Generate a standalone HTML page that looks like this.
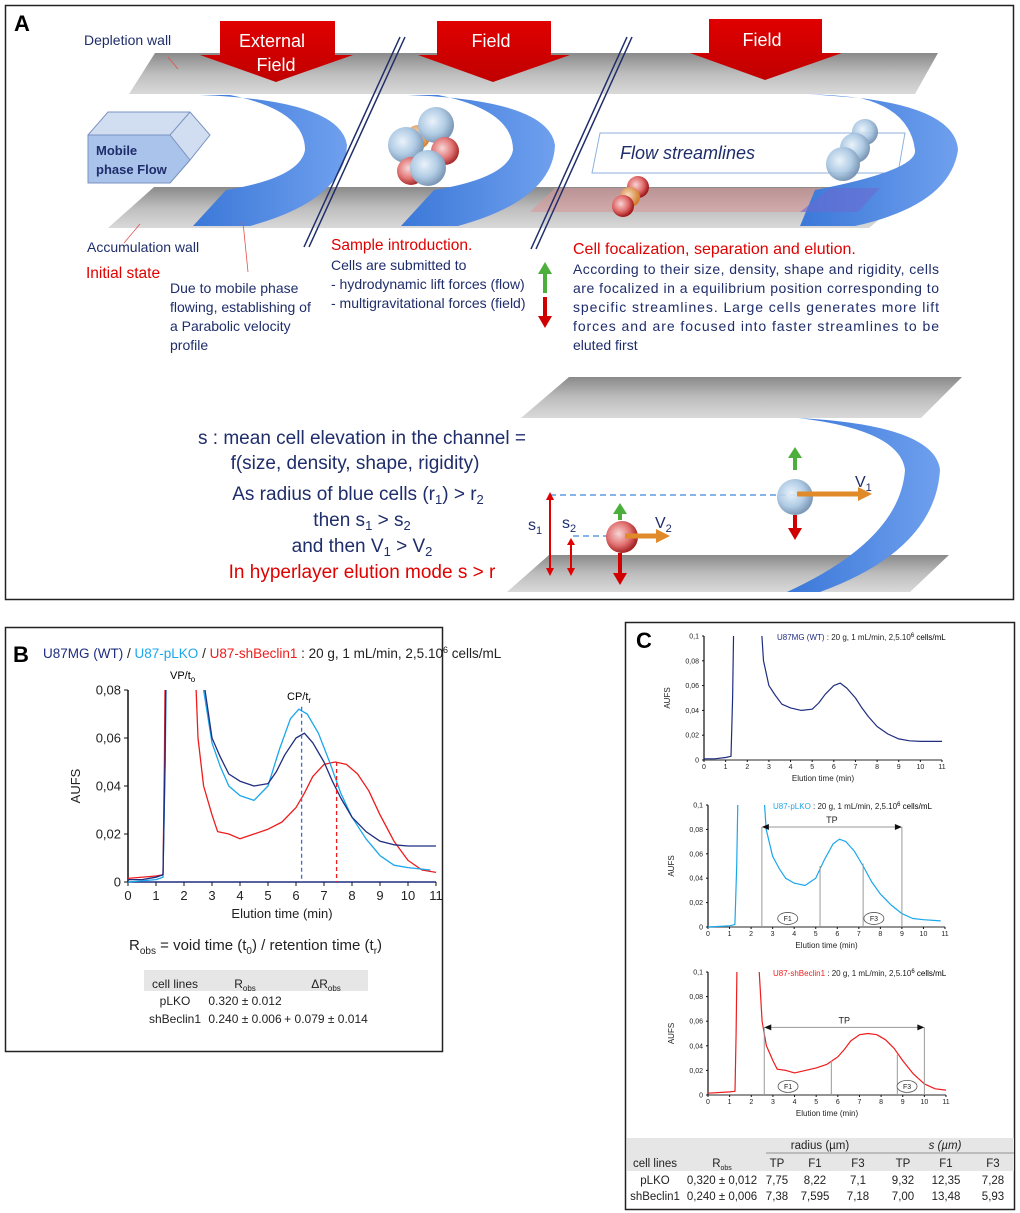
<!DOCTYPE html>
<html><head><meta charset="utf-8"><style>
html,body{margin:0;padding:0;background:#fff;}
svg{display:block;}
.n{font-family:"Liberation Sans Narrow","Liberation Sans",sans-serif;}
.s{font-family:"Liberation Sans",sans-serif;}
</style></head><body>
<svg id="fig" width="1020" height="1213" viewBox="0 0 1020 1213" xmlns="http://www.w3.org/2000/svg">
<defs>
<linearGradient id="wall" x1="0" y1="0" x2="0" y2="1"><stop offset="0" stop-color="#8a8a8a"/><stop offset="0.5" stop-color="#bdbdbd"/><stop offset="1" stop-color="#d9d9d9"/></linearGradient>
<linearGradient id="blueg" x1="0" y1="0" x2="1" y2="0"><stop offset="0" stop-color="#3b78d8"/><stop offset="1" stop-color="#6fa0ee"/></linearGradient>
<radialGradient id="bcell" cx="0.4" cy="0.4" r="0.6"><stop offset="0" stop-color="#e8f2fb"/><stop offset="0.6" stop-color="#a9c7e2"/><stop offset="1" stop-color="#6f8fb0"/></radialGradient>
<radialGradient id="rcell" cx="0.4" cy="0.4" r="0.6"><stop offset="0" stop-color="#f7d4d4"/><stop offset="0.6" stop-color="#e06a6a"/><stop offset="1" stop-color="#a01818"/></radialGradient>
<radialGradient id="ocell" cx="0.4" cy="0.4" r="0.6"><stop offset="0" stop-color="#f8dcc0"/><stop offset="1" stop-color="#d27a2a"/></radialGradient>
<linearGradient id="redarrow" x1="0" y1="0" x2="0" y2="1"><stop offset="0" stop-color="#e00000"/><stop offset="1" stop-color="#c00000"/></linearGradient>
</defs>

<!-- PANEL A -->
<g>
<rect x="5.5" y="5.5" width="1008" height="594" fill="#fff" stroke="#222" stroke-width="1.5"/>
<text x="14" y="31" class="s" font-size="22" font-weight="bold">A</text>

<polygon points="155,53 938,53 915,94 129,94" fill="url(#wall)"/>
<polygon points="154,187 918,187 869,228 108,228" fill="url(#wall)"/>
<polygon points="555,188 880,188 858,212 530,212" fill="#d99a9a" opacity="0.6"/>
<polygon points="600,133 905,133 898,173 592,173" fill="#fff" fill-opacity="0.7" stroke="#8fb2dc"/>
<text x="620" y="159" class="s" font-size="18" font-style="italic" fill="#1f2d6b">Flow streamlines</text>

<path d="M200,95 Q340,100 347,145 Q345,200 250,226 L193,226 L226,190 Q300,178 305,150 Q305,110 230,95 Z" fill="url(#blueg)"/>
<path d="M408,95 Q548,100 555,145 Q553,200 458,226 L401,226 L434,190 Q508,178 513,150 Q513,110 438,95 Z" fill="url(#blueg)"/>
<path d="M808,94 Q955,100 958,150 Q950,205 855,226 L800,226 L815,190 Q918,170 915,150 Q910,110 860,98 Z" fill="url(#blueg)"/>
<polygon points="830,188 880,188 858,212 800,212" fill="#6b6bd0" opacity="0.6"/>

<!-- mobile phase box -->
<g>
<polygon points="88,135 108,112 190,112 210,135 190,160 170,183 88,183" fill="#c5d6ef" stroke="#7b93c0" fill-opacity="0.8"/>
<polygon points="88,135 170,135 190,160 170,183 88,183" fill="#a9c3ea" stroke="#7b93c0"/>
<line x1="170" y1="135" x2="190" y2="112" stroke="#7b93c0"/>
<text x="96" y="155" class="s" font-size="13" font-weight="bold" fill="#1f2d6b">Mobile</text>
<text x="96" y="174" class="s" font-size="13" font-weight="bold" fill="#1f2d6b">phase Flow</text>
</g>

<!-- break lines -->
<g stroke="#1f2d6b" stroke-width="1.5" fill="none">
<line x1="400" y1="37" x2="304" y2="247"/><line x1="405" y1="37" x2="309" y2="247"/>
<line x1="627" y1="37" x2="531" y2="249"/><line x1="632" y1="37" x2="536" y2="249"/>
</g>

<!-- red field arrows -->
<g>
<polygon points="220,21 335,21 335,55 353,55 276,82 200,55 220,55" fill="url(#redarrow)"/>
<text x="272" y="47" text-anchor="middle" class="n" font-size="18" fill="#fff">External</text>
<text x="276" y="71" text-anchor="middle" class="n" font-size="18" fill="#fff">Field</text>
</g>
<g>
<polygon points="437,21 551,21 551,55 570,55 493,82 418,55 437,55" fill="url(#redarrow)"/>
<text x="491" y="47" text-anchor="middle" class="n" font-size="18" fill="#fff">Field</text>
</g>
<g>
<polygon points="709,19 822,19 822,53 842,53 765,80 690,53 709,53" fill="url(#redarrow)"/>
<text x="762" y="46" text-anchor="middle" class="n" font-size="18" fill="#fff">Field</text>
</g>

<!-- cells cluster -->
<g opacity="0.9">
<circle cx="418" cy="137" r="12" fill="url(#ocell)"/>
<circle cx="436" cy="125" r="18" fill="url(#bcell)"/>
<circle cx="406" cy="145" r="18" fill="url(#bcell)"/>
<circle cx="445" cy="151" r="14" fill="url(#rcell)"/>
<circle cx="411" cy="171" r="14" fill="url(#rcell)"/>
<circle cx="428" cy="168" r="18" fill="url(#bcell)"/>
</g>
<g>
<circle cx="638" cy="187" r="11" fill="url(#rcell)"/>
<circle cx="630" cy="197" r="10" fill="url(#ocell)"/>
<circle cx="623" cy="206" r="11" fill="url(#rcell)"/>
</g>
<g opacity="0.9">
<circle cx="865" cy="132" r="13" fill="url(#bcell)"/>
<circle cx="855" cy="148" r="15" fill="url(#bcell)"/>
<circle cx="843" cy="164" r="17" fill="url(#bcell)"/>
</g>

<!-- annotation lines -->
<line x1="168" y1="57" x2="178" y2="69" stroke="#e05050" stroke-width="0.8"/>
<line x1="140" y1="224" x2="124" y2="243" stroke="#e05050" stroke-width="0.8"/>
<line x1="243" y1="222" x2="248" y2="272" stroke="#e05050" stroke-width="0.8"/>

<g class="n" fill="#1f2d6b" font-size="14">
<text x="84" y="45">Depletion wall</text>
<text x="87" y="252">Accumulation wall</text>
<text x="86" y="278" fill="#e00000" font-size="15.5">Initial state</text>
<g>
<text x="170" y="293">Due to mobile phase</text>
<text x="170" y="312">flowing, establishing of</text>
<text x="170" y="331">a Parabolic velocity</text>
<text x="170" y="350">profile</text>
</g>
<text x="331" y="250" fill="#e00000" font-size="15.5">Sample introduction.</text>
<g>
<text x="331" y="270">Cells are submitted to</text>
<text x="331" y="289">- hydrodynamic lift forces (flow)</text>
<text x="331" y="308">- multigravitational forces (field)</text>
</g>
<text x="573" y="254" fill="#e00000" font-size="16">Cell focalization, separation and elution.</text>
<g>
<text x="573" y="274" textLength="366" lengthAdjust="spacing">According to their size, density, shape and rigidity, cells</text>
<text x="573" y="293" textLength="366" lengthAdjust="spacing">are focalized in a equilibrium position corresponding to</text>
<text x="573" y="312" textLength="366" lengthAdjust="spacing">specific streamlines. Large cells generates more lift</text>
<text x="573" y="331" textLength="366" lengthAdjust="spacing">forces and are focused into faster streamlines to be</text>
<text x="573" y="350">eluted first</text>
</g>
</g>
<g>
<line x1="545" y1="293" x2="545" y2="272" stroke="#4caf3c" stroke-width="4"/><polygon points="538,274 552,274 545,262" fill="#4caf3c"/>
<line x1="545" y1="297" x2="545" y2="318" stroke="#d00000" stroke-width="4"/><polygon points="538,316 552,316 545,328" fill="#d00000"/>
</g>

<!-- lower channel -->
<polygon points="569,377 962,377 921,418 521,418" fill="url(#wall)"/>
<polygon points="549,555 949,555 910,592 507,592" fill="url(#wall)"/>
<path d="M798,418 Q935,425 940,470 Q935,550 820,592 L787,592 Q900,540 905,470 Q900,430 798,418 Z" fill="url(#blueg)"/>
<line x1="550" y1="495" x2="795" y2="495" stroke="#5b9be0" stroke-width="1.5" stroke-dasharray="6,4"/>
<line x1="573" y1="536" x2="622" y2="536" stroke="#5b9be0" stroke-width="1.5" stroke-dasharray="6,4"/>
<g><line x1="550" y1="498" x2="550" y2="570" stroke="#e00000" stroke-width="2"/><polygon points="546,500 554,500 550,492" fill="#e00000"/><polygon points="546,568 554,568 550,576" fill="#e00000"/></g>
<g><line x1="571" y1="543" x2="571" y2="570" stroke="#e00000" stroke-width="2"/><polygon points="567,545 575,545 571,538" fill="#e00000"/><polygon points="567,568 575,568 571,576" fill="#e00000"/></g>
<g>
<line x1="795" y1="470" x2="795" y2="455" stroke="#4caf3c" stroke-width="4"/><polygon points="788,458 802,458 795,447" fill="#4caf3c"/>
<circle cx="795" cy="497" r="18" fill="url(#bcell)" opacity="0.9"/>
<line x1="795" y1="515" x2="795" y2="530" stroke="#d00000" stroke-width="4"/><polygon points="788,528 802,528 795,540" fill="#d00000"/>
<line x1="797" y1="494" x2="862" y2="494" stroke="#e08a2a" stroke-width="5"/><polygon points="858,487 872,494 858,501" fill="#e08a2a"/>
</g>
<g>
<line x1="620" y1="520" x2="620" y2="512" stroke="#4caf3c" stroke-width="4"/><polygon points="613,514 627,514 620,503" fill="#4caf3c"/>
<circle cx="622" cy="537" r="16" fill="url(#rcell)" opacity="0.95"/>
<line x1="620" y1="553" x2="620" y2="575" stroke="#d00000" stroke-width="4"/><polygon points="613,573 627,573 620,585" fill="#d00000"/>
<line x1="625" y1="536" x2="660" y2="536" stroke="#e08a2a" stroke-width="5"/><polygon points="656,529 670,536 656,543" fill="#e08a2a"/>
</g>
<g class="n" fill="#1f2d6b" font-size="16">
<text x="855" y="487">V<tspan font-size="11" dy="4">1</tspan></text>
<text x="655" y="528">V<tspan font-size="11" dy="4">2</tspan></text>
<text x="528" y="530">s<tspan font-size="11" dy="4">1</tspan></text>
<text x="562" y="528">s<tspan font-size="11" dy="4">2</tspan></text>
</g>
<g class="n" fill="#1f2d6b" font-size="19" text-anchor="middle">
<text x="362" y="444">s : mean cell elevation in the channel =</text>
<text x="355" y="469">f(size, density, shape, rigidity)</text>
<text x="358" y="500">As radius of blue cells (r<tspan font-size="13" dy="4">1</tspan><tspan dy="-4">) &gt; r</tspan><tspan font-size="13" dy="4">2</tspan></text>
<text x="362" y="526">then s<tspan font-size="13" dy="4">1</tspan><tspan dy="-4"> &gt; s</tspan><tspan font-size="13" dy="4">2</tspan></text>
<text x="362" y="552">and then V<tspan font-size="13" dy="4">1</tspan><tspan dy="-4"> &gt; V</tspan><tspan font-size="13" dy="4">2</tspan></text>
<text x="362" y="578" fill="#e00000">In hyperlayer elution mode s &gt; r</text>
</g>
</g>

<!-- PANEL B -->
<g>
<rect x="5.5" y="627.5" width="437" height="424" fill="#fff" stroke="#222" stroke-width="1.5"/>
<text x="13" y="662" class="s" font-size="22" font-weight="bold">B</text>
<text x="43" y="658" class="s" font-size="13.5"><tspan fill="#1f2d80">U87MG (WT)</tspan><tspan fill="#222"> / </tspan><tspan fill="#1aa7ec">U87-pLKO</tspan><tspan fill="#222"> / </tspan><tspan fill="#ee1c1c">U87-shBeclin1</tspan><tspan fill="#222">  : 20 g, 1 mL/min, 2,5.10</tspan><tspan fill="#222" font-size="9" dy="-5">6</tspan><tspan fill="#222" dy="5"> cells/mL</tspan></text>
<g id="chartB"></g>
<text x="170" y="679" class="s" font-size="11">VP/t<tspan font-size="8" dy="3">o</tspan></text>
<text x="287" y="700" class="s" font-size="11">CP/t<tspan font-size="8" dy="3">r</tspan></text>
<text x="129" y="950" class="n" font-size="15" fill="#222">R<tspan font-size="10" dy="4">obs</tspan><tspan dy="-4"> = void time (t</tspan><tspan font-size="10" dy="4">0</tspan><tspan dy="-4">) / retention time (t</tspan><tspan font-size="10" dy="4">r</tspan><tspan dy="-4">)</tspan></text>
<g class="n" font-size="12" fill="#222" text-anchor="middle">
<rect x="144" y="970" width="224" height="21" fill="#e6e6e6"/>
<text x="175" y="988">cell lines</text>
<text x="245" y="988">R<tspan font-size="8" dy="3">obs</tspan></text>
<text x="326" y="988">ΔR<tspan font-size="8" dy="3">obs</tspan></text>
<text x="175" y="1005">pLKO</text><text x="245" y="1005">0.320 ± 0.012</text>
<text x="175" y="1023">shBeclin1</text><text x="245" y="1023">0.240 ± 0.006</text><text x="326" y="1023">+ 0.079 ± 0.014</text>
</g>
</g>

<!-- PANEL C -->
<g>
<rect x="625.5" y="622.5" width="389" height="587" fill="#fff" stroke="#222" stroke-width="1.5"/>
<text x="636" y="648" class="s" font-size="22" font-weight="bold">C</text>
<g id="chartC1"></g>
<g id="chartC2"></g>
<g id="chartC3"></g>
<text x="777" y="640" class="s" font-size="8"><tspan fill="#1f2d80">U87MG (WT)</tspan><tspan fill="#222"> : 20 g, 1 mL/min, 2,5.10</tspan><tspan font-size="6" dy="-3">6</tspan><tspan dy="3"> cells/mL</tspan></text>
<text x="773" y="809" class="s" font-size="8"><tspan fill="#1aa7ec">U87-pLKO</tspan><tspan fill="#222"> : 20 g, 1 mL/min, 2,5.10</tspan><tspan font-size="6" dy="-3">6</tspan><tspan dy="3"> cells/mL</tspan></text>
<text x="773" y="976" class="s" font-size="8"><tspan fill="#ee1c1c">U87-shBeclin1</tspan><tspan fill="#222">  : 20 g, 1 mL/min, 2,5.10</tspan><tspan font-size="6" dy="-3">6</tspan><tspan dy="3"> cells/mL</tspan></text>
<g class="n" font-size="11.5" fill="#222" text-anchor="middle">
<rect x="627" y="1138" width="387" height="33" fill="#e6e6e6"/>
<text x="820" y="1149">radius (µm)</text>
<text x="945" y="1149" font-style="italic">s (µm)</text>
<line x1="766" y1="1153" x2="1014" y2="1153" stroke="#777" stroke-width="0.8"/>
<text x="655" y="1167">cell lines</text>
<text x="722" y="1167">R<tspan font-size="7" dy="3">obs</tspan></text>
<text x="777" y="1167">TP</text><text x="815" y="1167">F1</text><text x="858" y="1167">F3</text>
<text x="903" y="1167">TP</text><text x="946" y="1167">F1</text><text x="993" y="1167">F3</text>
<text x="655" y="1184">pLKO</text><text x="722" y="1184">0,320 ± 0,012</text><text x="777" y="1184">7,75</text><text x="815" y="1184">8,22</text><text x="858" y="1184">7,1</text><text x="903" y="1184">9,32</text><text x="946" y="1184">12,35</text><text x="993" y="1184">7,28</text>
<text x="655" y="1200">shBeclin1</text><text x="722" y="1200">0,240 ± 0,006</text><text x="777" y="1200">7,38</text><text x="815" y="1200">7,595</text><text x="858" y="1200">7,18</text><text x="903" y="1200">7,00</text><text x="946" y="1200">13,48</text><text x="993" y="1200">5,93</text>
</g>
</g>
</svg>

<script>
// ---- data ----
const timeTicks = [0,1,2,3,4,5,6,7,8,9,10,11];
const bYTicks = [0,0.02,0.04,0.06,0.08];
const bYTickLabels = ["0","0,02","0,04","0,06","0,08"];
const cYTicks = [0,0.02,0.04,0.06,0.08,0.1];
const cYTickLabels = ["0","0,02","0,04","0,06","0,08","0,1"];
const wtTime = [0,0.5,1,1.25,1.32,1.38,2.6,2.75,3,3.3,3.6,4,4.5,5,5.3,5.6,6,6.3,6.6,7,7.3,7.6,8,8.5,9,9.5,10,11];
const wtAufs = [0.001,0.001,0.002,0.003,0.05,0.12,0.12,0.08,0.06,0.052,0.045,0.042,0.04,0.041,0.046,0.053,0.06,0.062,0.058,0.05,0.042,0.035,0.027,0.021,0.017,0.0155,0.015,0.015];
const plkoTime = [0,1,1.25,1.33,1.4,2.55,2.7,3,3.3,3.6,4,4.5,5,5.4,5.8,6.1,6.4,6.8,7.2,7.6,8,8.5,9,9.5,10,10.8];
const plkoAufs = [0,0.001,0.002,0.05,0.12,0.12,0.08,0.058,0.048,0.04,0.036,0.034,0.04,0.055,0.068,0.072,0.07,0.062,0.05,0.037,0.027,0.018,0.011,0.007,0.006,0.005];
const shbTime = [0,1,1.25,1.3,1.35,2.3,2.5,2.7,3,3.2,3.6,4,4.5,5,5.5,6,6.3,6.6,7,7.4,7.8,8.2,8.6,9,9.5,10,10.5,11];
const shbAufs = [0.0015,0.0025,0.003,0.05,0.12,0.12,0.06,0.04,0.028,0.021,0.02,0.018,0.02,0.022,0.025,0.031,0.037,0.044,0.049,0.05,0.049,0.045,0.038,0.028,0.017,0.009,0.005,0.004];
const bMarkerTimes = [6.2, 7.45];
const bMarkerAufs = [0.073, 0.05];
const plkoFractionTimes = [2.5, 5.2, 7.2, 9];
const plkoFractionAufs = [0.082, 0.05, 0.052, 0.082];
const shbFractionTimes = [2.6, 5.7, 8.75, 10];
const shbFractionAufs = [0.055, 0.028, 0.033, 0.055];

const NS = "http://www.w3.org/2000/svg";
function mk(parent, tag, attrs){const e=document.createElementNS(NS,tag);for(const k in attrs)e.setAttribute(k,attrs[k]);parent.appendChild(e);return e;}
let clipId=0;

function chart(g, o){
  const sx = v => o.x0 + (v/11)*(o.x1-o.x0);
  const sy = v => o.y0 - (v/o.ymax)*(o.y0-o.y1);
  const defs = mk(document.getElementById('fig').querySelector('defs'),'clipPath',{id:'clip'+(++clipId)});
  mk(defs,'rect',{x:o.x0,y:o.y1,width:o.x1-o.x0+4,height:o.y0-o.y1+1});
  // axes
  const ax = mk(g,'line',{x1:o.x0,y1:o.y0,x2:o.x1,y2:o.y0,stroke:o.axisColor,'stroke-width':o.aw});
  
  
  const ay = mk(g,'line',{x1:o.x0,y1:o.y0,x2:o.x0,y2:o.y1,stroke:'#111','stroke-width':o.aw});
  
  
  timeTicks.forEach(t=>{
    mk(g,'line',{x1:sx(t),y1:o.y0,x2:sx(t),y2:o.y0+o.tk,stroke:'#111','stroke-width':1});
    const tl = mk(g,'text',{x:sx(t),y:o.y0+o.tlOff,'text-anchor':'middle','font-size':o.fs,'font-family':'Liberation Sans, sans-serif',fill:'#222'});
    tl.textContent = t;
    
    
  });
  o.yt.forEach((v,i)=>{
    mk(g,'line',{x1:o.x0-o.tk,y1:sy(v),x2:o.x0,y2:sy(v),stroke:'#111','stroke-width':1});
    const tl = mk(g,'text',{x:o.x0-o.tk-3,y:sy(v)+o.fs*0.35,'text-anchor':'end','font-size':o.fs,'font-family':'Liberation Sans, sans-serif',fill:'#222'});
    tl.textContent = o.ytl[i];
    
    
  });
  const xt = mk(g,'text',{x:(o.x0+o.x1)/2,y:o.y0+o.xtOff,'text-anchor':'middle','font-size':o.lfs,'font-family':'Liberation Sans, sans-serif',fill:'#222'});
  xt.textContent='Elution time (min)';
  
  
  const yx=o.x0-o.ytOff, yy=(o.y0+o.y1)/2;
  const yt = mk(g,'text',{x:yx,y:yy,'text-anchor':'middle','font-size':o.lfs,'font-family':'Liberation Sans, sans-serif',fill:'#222',transform:`rotate(-90 ${yx} ${yy})`});
  yt.textContent='AUFS';
  
  
  const sg = mk(g,'g',{'clip-path':`url(#clip${clipId})`});
  o.series.forEach(s=>{
    const d = s.t.map((t,i)=>(i?'L':'M')+sx(t).toFixed(1)+','+sy(s.v[i]).toFixed(1)).join(' ');
    const p = mk(sg,'path',{d:d,fill:'none',stroke:s.c,'stroke-width':o.lw,'stroke-linejoin':'round'});
    
    
  });
  return {sx,sy};
}

// Panel B
const gB = document.getElementById('chartB');
const B = chart(gB,{x0:128,x1:436,y0:882,y1:690,ymax:0.08,yt:bYTicks,ytl:bYTickLabels,fs:13,lfs:13,tk:4,tlOff:18,xtOff:36,ytOff:48,aw:1.5,lw:1.3,axisColor:'#1f2d80',
  series:[{t:shbTime,v:shbAufs,c:'#ee1c1c',name:'series-shbeclin1'},{t:plkoTime,v:plkoAufs,c:'#1aa7ec',name:'series-plko'},{t:wtTime,v:wtAufs,c:'#1f2d80',name:'series-wt'}]});
const markerColors=['#3a6fd0','#ee1c1c'];
bMarkerTimes.forEach((t,i)=>{
  const l = mk(gB,'line',{x1:B.sx(t),y1:B.sy(bMarkerAufs[i]),x2:B.sx(t),y2:B.sy(0),stroke:markerColors[i],'stroke-width':1.3,'stroke-dasharray':'4,3'});
  
  
});

// Panel C
function fractions(g,S,times,aufs,f1x,f3x){
  times.forEach((t,i)=>{
    const l = mk(g,'line',{x1:S.sx(t),y1:S.sy(aufs[i]),x2:S.sx(t),y2:S.sy(0),stroke:'#999','stroke-width':1});
    
    
  });
  const ty=S.sy(aufs[0]);
  const a = mk(g,'line',{x1:S.sx(times[0])+2,y1:ty,x2:S.sx(times[3])-2,y2:ty,stroke:'#999','stroke-width':1});
  
  
  mk(g,'polygon',{points:`${S.sx(times[0])},${ty} ${S.sx(times[0])+7},${ty-3} ${S.sx(times[0])+7},${ty+3}`,fill:'#111'});
  mk(g,'polygon',{points:`${S.sx(times[3])},${ty} ${S.sx(times[3])-7},${ty-3} ${S.sx(times[3])-7},${ty+3}`,fill:'#111'});
  const tp = mk(g,'text',{x:(S.sx(times[0])+S.sx(times[3]))/2,y:ty-4,'text-anchor':'middle','font-size':9,'font-family':'Liberation Sans, sans-serif',fill:'#222'});
  tp.textContent='TP';
  
  
  [[f1x,'F1'],[f3x,'F3']].forEach(f=>{
    const cx=S.sx(f[0]), cy=S.sy(0.007);
    mk(g,'ellipse',{cx:cx,cy:cy,rx:10,ry:6,fill:'#fff',stroke:'#555','stroke-width':0.8});
    const t = mk(g,'text',{x:cx,y:cy+2.5,'text-anchor':'middle','font-size':7,'font-family':'Liberation Sans, sans-serif',fill:'#222'});
    t.textContent=f[1];
    
    
  });
}
const cOpts = {ymax:0.1,yt:cYTicks,ytl:cYTickLabels,fs:7,lfs:8,tk:2,tlOff:9,xtOff:21,ytOff:34,aw:1.2,lw:1.2,axisColor:'#555'};
chart(document.getElementById('chartC1'),Object.assign({x0:704,x1:942,y0:760,y1:636,series:[{t:wtTime,v:wtAufs,c:'#1f2d80',name:'series-wt'}]},cOpts));
const gC2=document.getElementById('chartC2');
const C2 = chart(gC2,Object.assign({x0:708,x1:945,y0:927,y1:805,series:[{t:plkoTime,v:plkoAufs,c:'#1aa7ec',name:'series-plko'}]},cOpts));
fractions(gC2,C2,plkoFractionTimes,plkoFractionAufs,3.7,7.7);
const gC3=document.getElementById('chartC3');
const C3 = chart(gC3,Object.assign({x0:708,x1:946,y0:1095,y1:972,series:[{t:shbTime,v:shbAufs,c:'#ee1c1c',name:'series-shbeclin1'}]},cOpts));
fractions(gC3,C3,shbFractionTimes,shbFractionAufs,3.7,9.2);
</script>
</body></html>
